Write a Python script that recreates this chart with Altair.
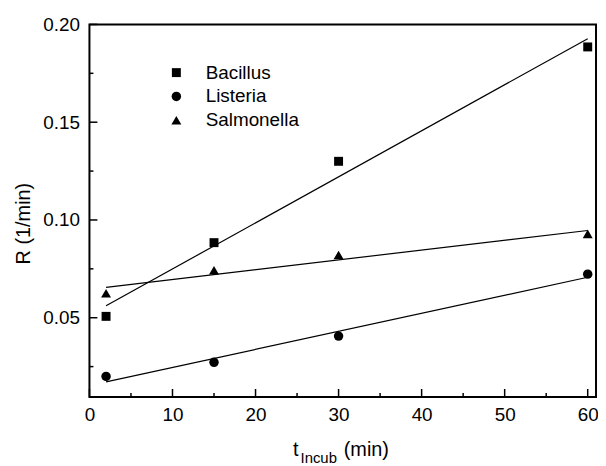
import altair as alt
import pandas as pd

times = [2, 15, 30, 60]
names = ["Bacillus", "Listeria", "Salmonella"]
bacillus = [0.0507, 0.0884, 0.130, 0.1885]
listeria = [0.020, 0.0272, 0.0406, 0.0723]
salmonella = [0.0625, 0.0743, 0.0821, 0.0929]

x_major = [0, 10, 20, 30, 40, 50, 60]
x_minor = [5, 15, 25, 35, 45, 55]
y_major = [0.05, 0.10, 0.15, 0.20]
y_minor = [0.025, 0.075, 0.125, 0.175]

rows = []
for name, vals in zip(names, [bacillus, listeria, salmonella]):
    for t, r in zip(times, vals):
        rows.append({"t": t, "R": r, "series": name})
df = pd.DataFrame(rows)

W, H = 510, 375
FONT = "Liberation Sans"
xs = alt.Scale(domain=[0, 61], nice=False, zero=False)
ys = alt.Scale(domain=[0.0095, 0.20], nice=False, zero=False)

xa = alt.Axis(values=x_major, tickSize=0, domain=False, grid=False, labelFontSize=19,
              labelFont=FONT, labelPadding=9, labelFlush=False, labelColor="black", title=None)
ya = alt.Axis(values=y_major, format=".2f", tickSize=0, domain=False, grid=False, labelFontSize=19,
              labelFont=FONT, labelPadding=10, labelFlush=False, labelColor="black", title=None)

legend = alt.Legend(
    title=None, orient="none", legendX=78, legendY=39, padding=0,
    labelFontSize=19, labelFont=FONT, labelOffset=20, rowPadding=4,
    labelColor="black",
)

points = alt.Chart(df).mark_point(filled=True, opacity=1, color="black").encode(
    x=alt.X("t:Q", scale=xs, axis=xa),
    y=alt.Y("R:Q", scale=ys, axis=ya),
    shape=alt.Shape("series:N", scale=alt.Scale(domain=names, range=["square", "circle", "triangle-up"]), legend=legend),
    size=alt.Size("series:N", scale=alt.Scale(domain=names, range=[81, 100, 144]), legend=legend),
)

lines = alt.Chart(df).transform_regression("t", "R", groupby=["series"]).mark_line(
    color="black", strokeWidth=1.2).encode(
    x=alt.X("t:Q", scale=xs, axis=xa),
    y=alt.Y("R:Q", scale=ys, axis=ya),
    detail="series:N",
)

def xticks(vals, length):
    return alt.Chart(pd.DataFrame({"t": vals})).mark_rule(color="black", strokeWidth=1.5).encode(
        x=alt.X("t:Q", scale=xs, axis=xa), y=alt.value(H), y2=alt.value(H - length))

def yticks(vals, length):
    return alt.Chart(pd.DataFrame({"R": vals})).mark_rule(color="black", strokeWidth=1.5).encode(
        y=alt.Y("R:Q", scale=ys, axis=ya), x=alt.value(0), x2=alt.value(length))

def label(txt, x, y, size, angle=0, align="left", baseline="alphabetic"):
    return alt.Chart(pd.DataFrame({"s": [txt]})).mark_text(
        font=FONT, fontSize=size, color="black", align=align, baseline=baseline, angle=angle).encode(
        text="s:N", x=alt.value(x), y=alt.value(y))

chart = alt.layer(
    points, lines,
    xticks(x_major, 8), xticks(x_minor, 4), yticks(y_major, 8), yticks(y_minor, 4),
    label("t", 205, 434, 20), label("Incub", 212.5, 442, 15), label("(min)", 256, 434, 20),
    label("R (1/min)", -66, 200.5, 20, angle=270, align="center", baseline="middle"),
).properties(
    width=W, height=H,
    background="white",
    autosize=alt.AutoSizeParams(type="none"),
    padding={"left": 82, "top": 15, "right": 2, "bottom": 68},
).configure_view(stroke="black", strokeWidth=2)

chart.save("out.html", embed_options={"renderer": "svg", "actions": False})
